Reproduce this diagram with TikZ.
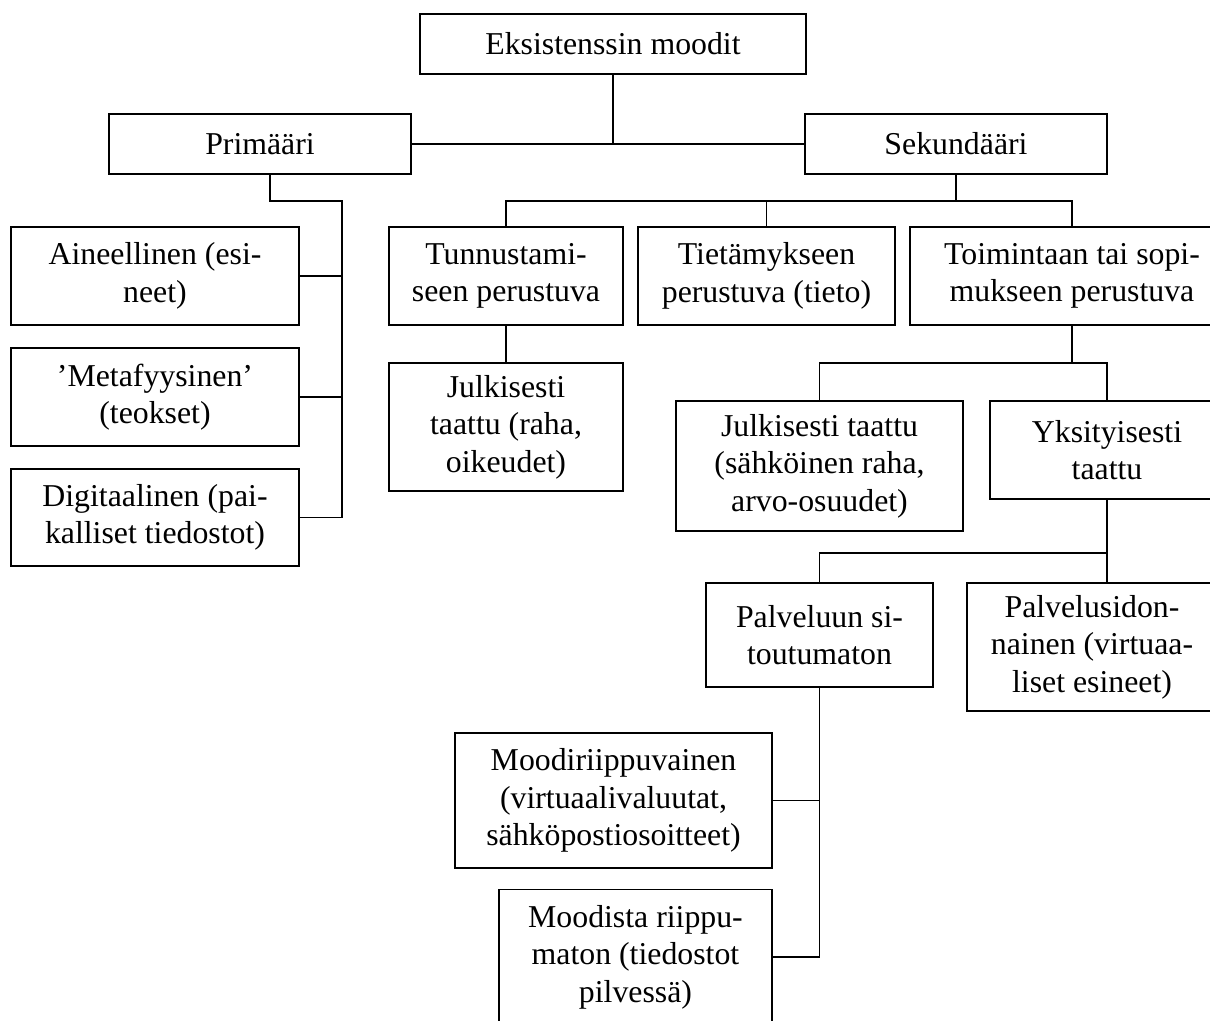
\documentclass[tikz,border=0pt]{standalone}
\usepackage{fontspec}
\setmainfont{Liberation Serif}
\usetikzlibrary{positioning,calc}

\begin{document}
\begin{tikzpicture}[x=0.5pt, y=-0.5pt,
    box/.style={draw, line width=0.7pt, align=center, inner sep=0pt,
      font=\fontsize{15.9}{18.8}\selectfont},
    link/.style={line width=0.7pt}]
      \useasboundingbox (0,0) rectangle (1210,1021);

      \node[box, minimum width=193pt, minimum height=30pt] (eksist) at (613,44) {Eksistenssin moodit};
      \node[box, minimum width=151pt, minimum height=30pt] (primaari) at (260,144) {Primääri};
      \node[box, minimum width=151pt, minimum height=30pt] (sekundaari) at (956,144) {Sekundääri};

      \node[box, minimum width=144pt, minimum height=49pt] (aineellinen) at (155,276) {Aineellinen (esi-\\neet)};
      \node[box, minimum width=144pt, minimum height=49pt] (metafyys) at (155,397) {’Metafyysinen’\\(teokset)};
      \node[box, minimum width=144pt, minimum height=48.5pt] (digitaal) at (155,517.5) {Digitaalinen (pai-\\kalliset tiedostot)};

      \node[box, minimum width=117pt, minimum height=49pt] (tunnust) at (506,276) {Tunnustami-\\seen perustuva};
      \node[box, minimum width=128.5pt, minimum height=49pt] (tietamys) at (766.5,276) {Tietämykseen\\perustuva (tieto)};
      \node[box, minimum width=162pt, minimum height=49pt] (toiminta) at (1072,276) {Toimintaan tai sopi-\\mukseen perustuva};

      \node[box, minimum width=117pt, minimum height=64pt] (julkraha) at (506,427) {Julkisesti\\taattu (raha,\\oikeudet)};
      \node[box, minimum width=143.5pt, minimum height=65pt] (julksahko) at (819.5,466) {Julkisesti taattu\\(sähköinen raha,\\arvo-osuudet)};
      \node[box, minimum width=117pt, minimum height=49pt] (yksityis) at (1107,450) {Yksityisesti\\taattu};

      \node[box, minimum width=113.5pt, minimum height=52pt] (palvsitout) at (819.5,635) {Palveluun si-\\toutumaton};
      \node[box, minimum width=125pt, minimum height=64pt] (palvsidon) at (1092,647) {Palvelusidon-\\nainen (virtuaa-\\liset esineet)};

      \node[box, minimum width=158.5pt, minimum height=67.5pt] (moodiripp) at (613.5,800.5) {Moodiriippuvainen\\(virtuaalivaluutat,\\sähköpostiosoitteet)};
      \node[box, minimum width=136.5pt, minimum height=67.5pt] (moodista) at (635.5,957) {Moodista riippu-\\maton (tiedostot\\pilvessä)};

      % top level
      \draw[link] (eksist.south) -- (eksist.south |- primaari.east);
      \draw[link] (primaari.east) -- (sekundaari.west);

      % primaari
      \coordinate (pbus) at (342,201);
      \draw[link] ([xshift=5pt]primaari.south) |- (pbus) -- (pbus |- digitaal.east) -- (digitaal.east);
      \foreach \n in {aineellinen, metafyys}
        \draw[link] (\n.east) -- (\n.east -| pbus);

      % sekundaari
      \coordinate (sbus) at (959,201);
      \draw[link] (sekundaari.south) -- (sekundaari.south |- sbus);
      \draw[link] (tunnust.north) |- (sbus) -| (toiminta.north);
      \draw[link] (tietamys.north) -- (tietamys.north |- sbus);
      \draw[link] (tunnust) -- (julkraha);

      \coordinate (tbus) at (1072,363);
      \draw[link] (toiminta.south) -- (tbus);
      \draw[link] (julksahko.north) |- (tbus) -| (yksityis.north);

      \coordinate (ybus) at (1107,553);
      \draw[link] (yksityis.south) -- (yksityis.south |- palvsidon.north);
      \draw[link] (palvsitout.north) |- (ybus);

      \draw[link] (palvsitout.south) |- (moodista.east);
      \draw[link] (moodiripp.east) -- (moodiripp.east -| palvsitout.south);
\end{tikzpicture}
\end{document}
